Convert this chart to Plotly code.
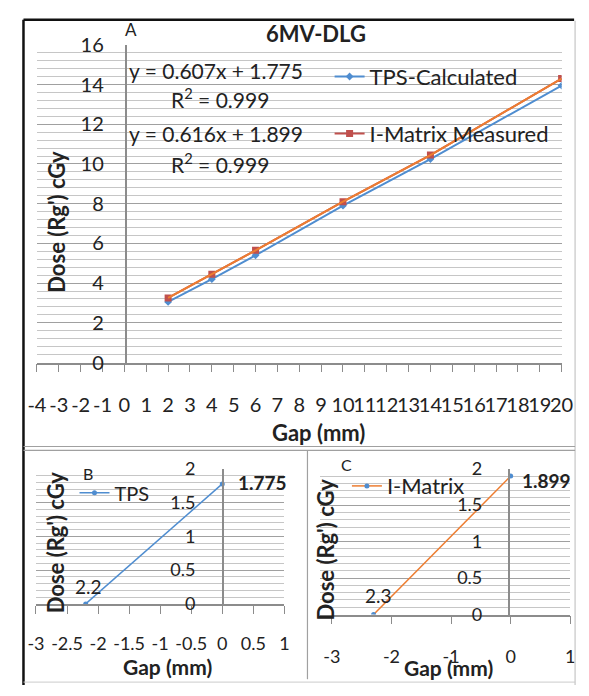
import plotly.graph_objects as go

# ---------------- data ----------------
gap_a = [2, 4, 6, 10, 14, 20]
tps_calculated = [3.05, 4.2, 5.4, 7.9, 10.25, 13.95]
imatrix_measured = [3.25, 4.45, 5.65, 8.1, 10.45, 14.3]

gap_b = [-2.2, 0]
tps_b = [0, 1.775]

gap_c = [-2.3, 0]
imatrix_c = [0, 1.899]

x_ticks_a = list(range(-4, 21))
x_ticks_b = [-3, -2.5, -2, -1.5, -1, -0.5, 0, 0.5, 1]
x_ticks_c = [-3, -2, -1, 0, 1]
y_ticks_a = [0, 2, 4, 6, 8, 10, 12, 14, 16]
y_ticks_bc = [0, 0.5, 1, 1.5, 2]

# ---------------- helpers ----------------
W, H = 589, 696
def px(x):
    return x / W
def py(y):
    return 1 - y / H

def fmt(v):
    return f"{v:g}"

FONT = "Lato"
TXT = "#222222"
BLUE = "#4F8DD0"
ORANGE = "#ED7D31"
RED = "#C0504D"
MAJ = "#A0A0A0"
MIN = "#C6C6C6"
AX = "#8C8C8C"

fig = go.Figure()

# Panel A
fig.add_trace(go.Scatter(x=gap_a, y=tps_calculated, name="TPS-Calculated",
                         mode="lines+markers", line=dict(color=BLUE, width=2),
                         marker=dict(color=BLUE, size=6, symbol="diamond"),
                         xaxis="x", yaxis="y", legend="legend"))
fig.add_trace(go.Scatter(x=gap_a, y=imatrix_measured, name="I-Matrix Measured",
                         mode="lines+markers", line=dict(color=RED, width=2),
                         marker=dict(color=RED, size=7, symbol="square"),
                         xaxis="x", yaxis="y", legend="legend2"))
fig.add_trace(go.Scatter(x=gap_a, y=imatrix_measured, mode="lines",
                         line=dict(color=ORANGE, width=2), showlegend=False,
                         hoverinfo="skip", xaxis="x", yaxis="y"))
# Panel B
fig.add_trace(go.Scatter(x=gap_b, y=tps_b, name="TPS", mode="lines+markers",
                         line=dict(color=BLUE, width=1.5),
                         marker=dict(color=BLUE, size=5),
                         xaxis="x2", yaxis="y2", legend="legend3"))
# Panel C
fig.add_trace(go.Scatter(x=gap_c, y=imatrix_c, name="I-Matrix", mode="lines+markers",
                         line=dict(color=ORANGE, width=1.5),
                         marker=dict(color=BLUE, size=5),
                         xaxis="x3", yaxis="y3", legend="legend4"))

def xax(domain, rng, tickvals, size, standoff, anchor):
    return dict(domain=domain, range=rng, tickvals=tickvals,
                ticktext=[fmt(v) for v in tickvals], anchor=anchor,
                ticks="outside", ticklen=8, tickcolor=AX, tickwidth=1,
                showline=True, linecolor=AX, linewidth=1.5,
                showgrid=False, zeroline=False, tickangle=0,
                ticklabelstandoff=standoff,
                tickfont=dict(family=FONT, size=size, color=TXT), fixedrange=True)

def yax(domain, rng, tickvals, mdtick, pos, size, standoff):
    return dict(domain=domain, range=rng, tickvals=tickvals,
                ticktext=[fmt(v) for v in tickvals], anchor="free",
                position=pos, ticks="", showline=True, linecolor=AX, linewidth=1.5,
                showgrid=True, gridcolor=MAJ, gridwidth=1.3, zeroline=False,
                minor=dict(dtick=mdtick, tick0=0, showgrid=True, gridcolor=MIN, gridwidth=1),
                ticklabelstandoff=standoff,
                tickfont=dict(family=FONT, size=size, color=TXT), fixedrange=True)

leg_common = dict(bgcolor="rgba(0,0,0,0)", borderwidth=0, xanchor="left",
                  yanchor="middle", itemclick=False)

fig.update_layout(
    width=W, height=H, margin=dict(l=0, r=0, t=0, b=0),
    paper_bgcolor="white", plot_bgcolor="white",
    font=dict(family=FONT, color=TXT),
    xaxis=xax([px(28), px(573)], [-4, 20], x_ticks_a, 20, 16, "y"),
    yaxis=yax([py(362), py(33)], [0, 16], y_ticks_a, 0.4, px(120), 20, 17),
    xaxis2=xax([px(27), px(285)], [-3, 1], x_ticks_b, 18, 15, "y2"),
    yaxis2=yax([py(612), py(472)], [0, 2], y_ticks_bc, 0.1, px(221), 18, 23),
    xaxis3=xax([px(322), px(582)], [-3.2, 1], x_ticks_c, 18, 17, "y3"),
    yaxis3=yax([py(623), py(472)], [0, 2], y_ticks_bc, 0.1, px(518), 18, 22),
    legend=dict(x=px(332), y=py(66), font=dict(family=FONT, size=22, color=TXT), **leg_common),
    legend2=dict(x=px(332), y=py(125), font=dict(family=FONT, size=22, color=TXT), **leg_common),
    legend3=dict(x=px(67), y=py(497), font=dict(family=FONT, size=20, color=TXT), **leg_common),
    legend4=dict(x=px(350), y=py(490), font=dict(family=FONT, size=22, color=TXT), **leg_common),
    showlegend=True,
)

def ann(text, x, y, size, bold=False, xanchor="center", angle=0, color=TXT):
    t = f"<b>{text}</b>" if bold else text
    fig.add_annotation(text=t, x=px(x), y=py(y), xref="paper", yref="paper",
                       xanchor=xanchor, yanchor="middle", showarrow=False,
                       textangle=angle, font=dict(family=FONT, size=size, color=color))

# Panel A texts
ann("A", 126, 17, 17)
ann("6MV-DLG", 318, 21, 22, bold=True)
ann("y = 0.607x + 1.775", 122, 60, 21, xanchor="left")
ann("R<sup>2</sup> = 0.999", 165, 88, 21, xanchor="left")
ann("y = 0.616x + 1.899", 122, 125, 21, xanchor="left")
ann("R<sup>2</sup> = 0.999", 165, 155, 21, xanchor="left")
ann("Dose (Rg') cGy", 48, 216, 22, bold=True, angle=-90)
ann("Gap (mm)", 320, 434, 22, bold=True)

# Panel B texts
ann("B", 81, 477, 16)
ann("1.775", 235, 486, 19, bold=True, xanchor="left")
ann("2.2", 82, 594, 19)
ann("Dose (Rg') cGy", 47, 548, 22, bold=True, angle=-90)
ann("Gap (mm)", 164, 677, 21, bold=True)

# Panel C texts
ann("C", 350, 468, 16)
ann("1.899", 530, 484, 19, bold=True, xanchor="left")
ann("2.3", 383, 603, 19)
ann("Dose (Rg') cGy", 328, 556, 22, bold=True, angle=-90)
ann("Gap (mm)", 455, 678, 21, bold=True)

# Frame lines
def line(x0, y0, x1, y1, color, width):
    fig.add_shape(type="line", xref="paper", yref="paper",
                  x0=px(x0), y0=py(y0), x1=px(x1), y1=py(y1),
                  line=dict(color=color, width=width))

line(14, 7, 586, 7, "#111111", 2.5)
line(14, 7, 14, 696, "#111111", 2.5)
line(587, 8, 587, 696, "#BBBBBB", 1)
line(14, 449, 587, 449, "#A0A0A0", 1.2)
line(14, 453, 587, 453, "#A0A0A0", 1.2)
line(309, 453, 309, 690, "#A0A0A0", 1.2)
line(14, 693, 587, 693, "#CCCCCC", 1)

fig.write_html("out.html", config={"displayModeBar": False},
               post_script="document.body.style.margin='0px';document.body.style.overflow='hidden';")
